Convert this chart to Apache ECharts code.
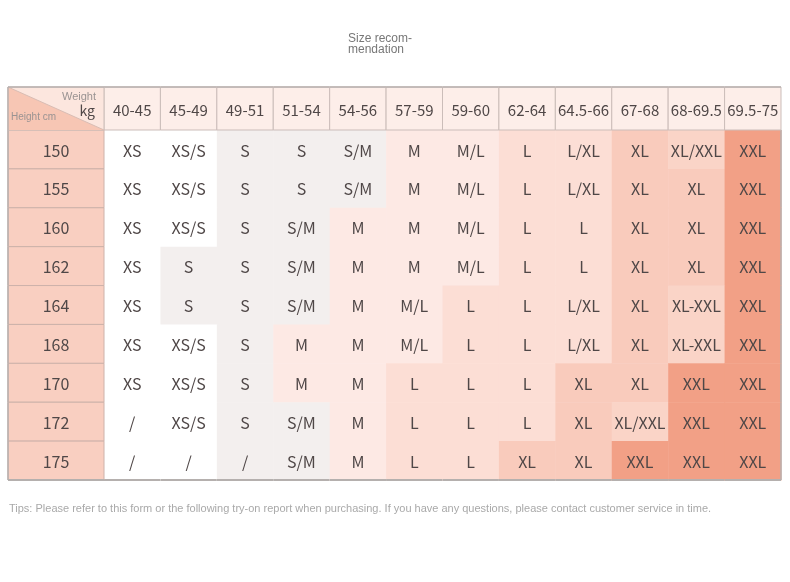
<!DOCTYPE html>
<html>
<head>
<meta charset="utf-8">
<script src="https://cdn.jsdelivr.net/npm/echarts@6/dist/echarts.min.js"></script>
<style>html,body{margin:0;padding:0;background:#fff}#c{width:790px;height:582px}</style>
</head>
<body>
<div id="c"></div>
<script>
const weights = ['40-45','45-49','49-51','51-54','54-56','57-59','59-60','62-64','64.5-66','67-68','68-69.5','69.5-75'];
const heights = ['150','155','160','162','164','168','170','172','175'];
const sizes150 = ['XS','XS/S','S','S','S/M','M','M/L','L','L/XL','XL','XL/XXL','XXL'];
const sizes155 = ['XS','XS/S','S','S','S/M','M','M/L','L','L/XL','XL','XL','XXL'];
const sizes160 = ['XS','XS/S','S','S/M','M','M','M/L','L','L','XL','XL','XXL'];
const sizes162 = ['XS','S','S','S/M','M','M','M/L','L','L','XL','XL','XXL'];
const sizes164 = ['XS','S','S','S/M','M','M/L','L','L','L/XL','XL','XL-XXL','XXL'];
const sizes168 = ['XS','XS/S','S','M','M','M/L','L','L','L/XL','XL','XL-XXL','XXL'];
const sizes170 = ['XS','XS/S','S','M','M','L','L','L','XL','XL','XXL','XXL'];
const sizes172 = ['/','XS/S','S','S/M','M','L','L','L','XL','XL/XXL','XXL','XXL'];
const sizes175 = ['/','/','/','S/M','M','L','L','XL','XL','XXL','XXL','XXL'];
const sizeRows = [sizes150,sizes155,sizes160,sizes162,sizes164,sizes168,sizes170,sizes172,sizes175];
const titleText = 'Size recom-\nmendation';
const tipsText = 'Tips: Please refer to this form or the following try-on report when purchasing. If you have any questions, please contact customer service in time.';

const levelOf = {'XS':0,'XS/S':0,'S':1,'S/M':1,'M':2,'M/L':2,'L':3,'L/XL':3,'XL':4,'XL/XXL':5,'XL-XXL':5,'XXL':6};
const palette = ['#ffffff','#f3efee','#fde9e4','#fcded5','#f9cbbc','#fad4c7','#f2a086'];
function levelAt(r, c) {
  const s = sizeRows[r][c];
  if (s === '/') return r > 0 ? levelAt(r - 1, c) : 0;
  return levelOf[s];
}

const TXT = '#4f4747';
const FONT = '"Noto Sans CJK SC","Noto Sans",sans-serif';
const HEAD_BORDER = '#cbbdb9';
const OUTER = '#b9b1af';

const bodyData = [];
sizeRows.forEach((row, r) => row.forEach((s, c) => bodyData.push([c, r])));
const headData = weights.map((w, c) => [c, 0]);
const leftData = heights.map((h, r) => [0, r]);

function cellRect(api, x, y) {
  const p = api.coord([x, y]);
  const s = api.size([1, 1]);
  return {x: p[0] - s[0] / 2, y: p[1] - s[1] / 2, w: s[0], h: s[1], cx: p[0], cy: p[1]};
}

const chart = echarts.init(document.getElementById('c'), null, {renderer: 'canvas'});
chart.setOption({
  animation: false,
  backgroundColor: '#ffffff',
  title: [
    {text: titleText, left: 348, top: 33, padding: 0, textStyle: {fontSize: 12, fontWeight: 'normal', color: '#777', lineHeight: 11, fontFamily: '"Liberation Sans",Arial,sans-serif'}},
    {text: tipsText, left: 9, top: 503, padding: 0, textStyle: {fontSize: 11, fontWeight: 'normal', color: '#a9a9a9', fontFamily: '"Liberation Sans",Arial,sans-serif'}}
  ],
  grid: [
    {left: 8, top: 87, width: 96, height: 43},
    {left: 104, top: 87, width: 677, height: 43},
    {left: 8, top: 130, width: 96, height: 350},
    {left: 104, top: 130, width: 677, height: 350}
  ],
  xAxis: [
    {gridIndex: 0, type: 'category', data: ['h'], show: false},
    {gridIndex: 1, type: 'category', data: weights, show: false},
    {gridIndex: 2, type: 'category', data: ['h'], show: false},
    {gridIndex: 3, type: 'category', data: weights, show: false}
  ],
  yAxis: [
    {gridIndex: 0, type: 'category', data: ['w'], show: false},
    {gridIndex: 1, type: 'category', data: ['w'], show: false},
    {gridIndex: 2, type: 'category', data: heights, inverse: true, show: false},
    {gridIndex: 3, type: 'category', data: heights, inverse: true, show: false}
  ],
  series: [
    {
      type: 'custom', xAxisIndex: 3, yAxisIndex: 3, data: bodyData,
      renderItem: function (params, api) {
        const c = api.value(0), r = api.value(1);
        const b = cellRect(api, c, r);
        const children = [
          {type: 'rect', shape: {x: b.x, y: b.y, width: b.w + 0.5, height: b.h + 0.5}, style: {fill: palette[levelAt(r, c)]}},
          {type: 'text', style: {text: sizeRows[r][c], x: b.cx, y: b.cy + 1, align: 'center', verticalAlign: 'middle', fill: TXT, font: '16px ' + FONT}}
        ];
        if (c === weights.length - 1) children.push({type: 'line', shape: {x1: b.x + b.w, y1: b.y, x2: b.x + b.w, y2: b.y + b.h}, style: {stroke: OUTER, lineWidth: 1.5}});
        if (r === heights.length - 1) children.push({type: 'line', shape: {x1: b.x, y1: b.y + b.h, x2: b.x + b.w, y2: b.y + b.h}, style: {stroke: '#b5b0ae', lineWidth: 2}});
        return {type: 'group', children: children};
      }
    },
    {
      type: 'custom', xAxisIndex: 1, yAxisIndex: 1, data: headData,
      renderItem: function (params, api) {
        const c = api.value(0);
        const b = cellRect(api, c, 0);
        return {type: 'group', children: [
          {type: 'rect', shape: {x: b.x, y: b.y, width: b.w, height: b.h}, style: {fill: '#fdeee9', stroke: HEAD_BORDER, lineWidth: 1}},
          {type: 'text', style: {text: weights[c], x: b.cx, y: b.cy + 2, align: 'center', verticalAlign: 'middle', fill: TXT, font: '15px ' + FONT}},
          {type: 'line', shape: {x1: b.x, y1: b.y, x2: b.x + b.w, y2: b.y}, style: {stroke: OUTER, lineWidth: 1.5}}
        ]};
      }
    },
    {
      type: 'custom', xAxisIndex: 2, yAxisIndex: 2, data: leftData,
      renderItem: function (params, api) {
        const r = api.value(1);
        const b = cellRect(api, 0, r);
        const children = [
          {type: 'rect', shape: {x: b.x, y: b.y, width: b.w, height: b.h}, style: {fill: '#f9cfc1', stroke: '#cdb2aa', lineWidth: 1}},
          {type: 'text', style: {text: heights[r], x: b.cx, y: b.cy + 1, align: 'center', verticalAlign: 'middle', fill: TXT, font: '16px ' + FONT}},
          {type: 'line', shape: {x1: b.x, y1: b.y, x2: b.x, y2: b.y + b.h}, style: {stroke: OUTER, lineWidth: 1.5}}
        ];
        if (r === heights.length - 1) children.push({type: 'line', shape: {x1: b.x, y1: b.y + b.h, x2: b.x + b.w, y2: b.y + b.h}, style: {stroke: '#b5b0ae', lineWidth: 2}});
        return {type: 'group', children: children};
      }
    },
    {
      type: 'custom', xAxisIndex: 0, yAxisIndex: 0, data: [[0, 0]],
      renderItem: function (params, api) {
        const b = cellRect(api, 0, 0);
        return {type: 'group', children: [
          {type: 'rect', shape: {x: b.x, y: b.y, width: b.w, height: b.h}, style: {fill: '#fce6de', stroke: HEAD_BORDER, lineWidth: 1}},
          {type: 'polygon', shape: {points: [[b.x, b.y], [b.x + b.w, b.y + b.h], [b.x, b.y + b.h]]}, style: {fill: '#f7c6b4'}},
          {type: 'line', shape: {x1: b.x, y1: b.y, x2: b.x + b.w, y2: b.y + b.h}, style: {stroke: '#d9bdb4', lineWidth: 1}},
          {type: 'text', style: {text: 'Weight', x: b.x + b.w - 8, y: b.y + 10, align: 'right', verticalAlign: 'middle', fill: '#9a9392', font: '11px "Liberation Sans",Arial,sans-serif'}},
          {type: 'text', style: {text: 'kg', x: b.x + b.w - 9, y: b.y + 24, align: 'right', verticalAlign: 'middle', fill: TXT, font: '14px ' + FONT}},
          {type: 'text', style: {text: 'Height cm', x: b.x + 3, y: b.y + 30, align: 'left', verticalAlign: 'middle', fill: '#9a9392', font: '10px "Liberation Sans",Arial,sans-serif'}},
          {type: 'line', shape: {x1: b.x, y1: b.y, x2: b.x + b.w, y2: b.y}, style: {stroke: OUTER, lineWidth: 1.5}},
          {type: 'line', shape: {x1: b.x, y1: b.y, x2: b.x, y2: b.y + b.h}, style: {stroke: OUTER, lineWidth: 1.5}}
        ]};
      }
    }
  ]
});
</script>
</body>
</html>
